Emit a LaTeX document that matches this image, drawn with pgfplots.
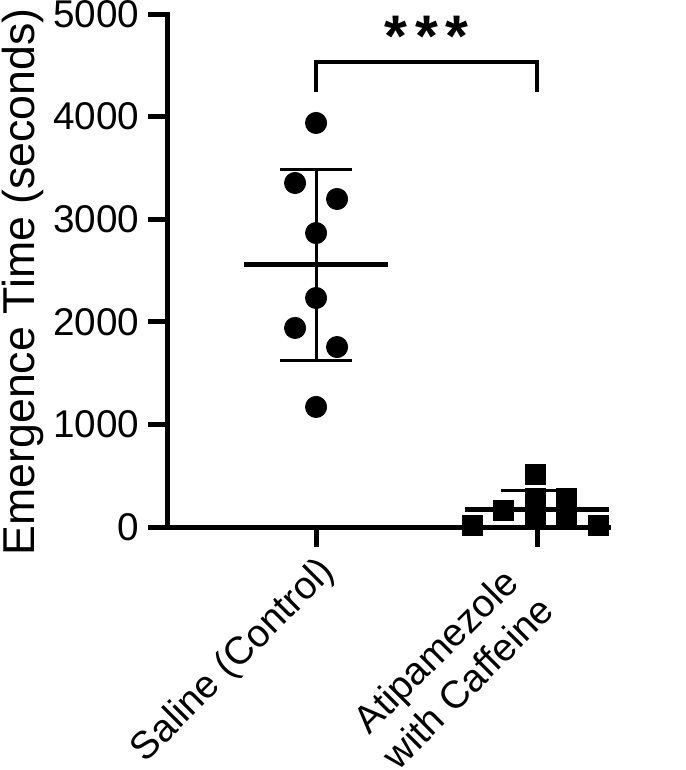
\documentclass[border=0pt]{standalone}
\usepackage{fontspec}
\setmainfont{Liberation Sans}
\usepackage{pgfplots}
\pgfplotsset{compat=1.18}
\begin{document}
\begin{tikzpicture}
\path[use as bounding box] (-126pt,-182.25pt) rectangle (387.75pt,395.25pt);
\begin{axis}[
  at={(0,0)}, anchor=south west,
  scale only axis, width=330pt, height=384.75pt,
  xmin=0.330, xmax=2.321, ymin=0, ymax=5000,
  axis x line=bottom, axis y line=left,
  axis line style={-, line width=3.75pt, line cap=rect},
  clip=false,
  xtick={1},
  xticklabels={Saline (Control)},
  extra x ticks={2},
  extra x tick labels={{Atipamezole\\with Caffeine}},
  extra x tick style={xticklabel style={xshift=-21.7pt, yshift=13.3pt}},
  ytick={0,1000,2000,3000,4000,5000},
  tick align=outside, major tick length=15pt,
  tick style={line width=3.75pt, black},
  /pgf/number format/assume math mode=true,
  /pgf/number format/1000 sep={},
  ticklabel style={font=\fontsize{29}{34}\selectfont},
  yticklabel style={xshift=-3pt},
  xticklabel style={rotate=45, anchor=north east, align=center},
  ylabel={Emergence Time (seconds)},
  ylabel style={font=\fontsize{33.5}{40}\selectfont, at={(axis description cs:-0.33,0.478)}, anchor=center},
]
% Saline individual values
\addplot[only marks, mark=*, mark size=8pt, mark options={fill=black, draw=black, line width=0.5pt}]
  coordinates {(1,3938)(0.905,3353)(1.095,3197)(1,2865)(1,2232)(0.905,1940)(1.095,1754)(1,1170)};
% Atipamezole with caffeine individual values
\addplot[only marks, mark=square*, mark size=7.5pt, mark options={fill=black, draw=black, line width=0pt}]
  coordinates {(1.706,10)(1.846,156)(1.995,516)(1.995,280)(1.995,100)(2.131,280)(2.131,115)(2.276,10)};
% mean +- SD
\addplot[only marks, mark=-, mark size=54pt, mark options={line width=3.75pt},
  error bars/.cd, y dir=both, y explicit,
  error bar style={line width=2.25pt},
  error mark options={rotate=90, mark size=27pt, line width=2.25pt}]
  coordinates {(1,2556) +- (0,930) (2,172) +- (0,182)};
% significance bracket
\addplot[line width=3pt, mark=none] coordinates {(1,4240)(1,4532)(2,4532)(2,4240)};
\node[anchor=base, font=\fontsize{44}{52}\selectfont\bfseries] at (axis cs:1.5,4590) {*\hspace{6pt}*\hspace{6pt}*};
\end{axis}
\end{tikzpicture}
\end{document}
